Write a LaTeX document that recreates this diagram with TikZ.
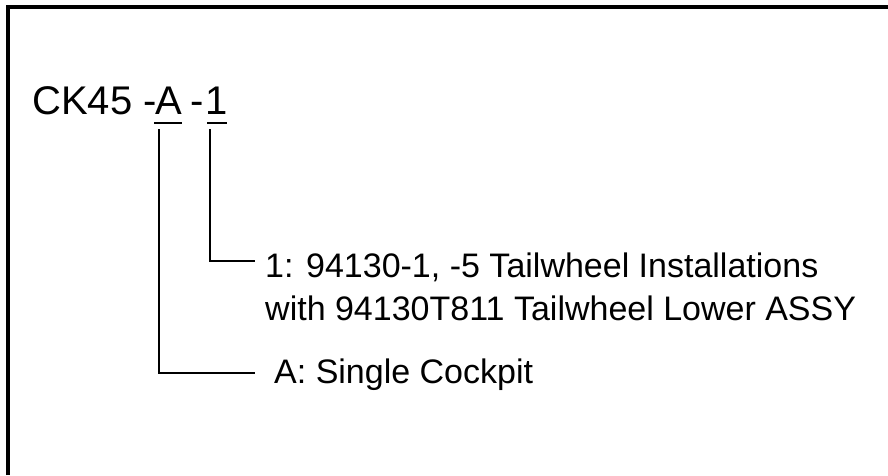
\documentclass[tikz,border=0pt]{standalone}
\usepackage{fontspec}
\setmainfont{Liberation Sans}
\begin{document}
\begin{tikzpicture}[x=1pt,y=-1pt,
  txt/.style={inner sep=0pt,anchor=base west},
  big/.style={txt,font=\fontsize{40}{44}\selectfont},
  lbl/.style={txt,font=\fontsize{34}{40}\selectfont},
  conn/.style={line width=2.5pt,line join=miter},
  uline/.style={line width=2pt},
  frame/.style={line width=4pt}]
\useasboundingbox (0,0) rectangle (888,475);
% frame (top and left edges visible)
\draw[frame] (8,475) -- (8,6.5) -- (888,6.5);
% code
\node[big] (ck) at (32,114) {CK45 -};
\node[big] (A) at (155,114) {A};
\node[big] (dash) at (190,114) {-};
\node[big] (one) at (205,114) {1};
% underlines
\draw[uline] (154,123) -- (182,123);
\draw[uline] (207,123) -- (227,123);
% labels
\node[lbl] (lab1) at (265,277) {1: 94130-1, -5 Tailwheel Installations};
\node[lbl] (lab1b) at (265,320) {with 94130T811 Tailwheel Lower ASSY};
\node[lbl] (labA) at (274,383) {A: Single Cockpit};
% connectors
\coordinate (sA) at (159,129);
\coordinate (s1) at (210,129);
\coordinate (eA) at (255,373);
\coordinate (e1) at (255,261);
\draw[conn] (s1) |- (e1);
\draw[conn] (sA) |- (eA);
\end{tikzpicture}
\end{document}
